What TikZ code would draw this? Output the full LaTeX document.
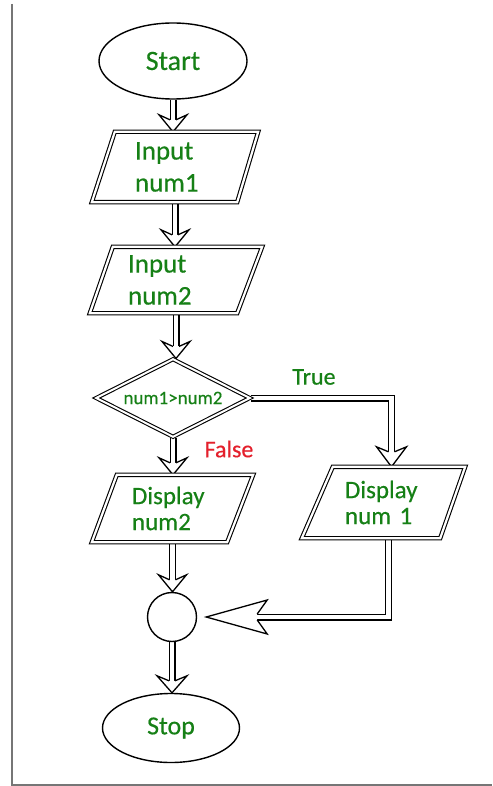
\documentclass[tikz,border=0pt]{standalone}
\usepackage{fontspec}
\setmainfont{Carlito}[FakeBold=0.4]
\usetikzlibrary{calc,shapes.geometric}

\pgfdeclarelayer{paper}
\pgfdeclarelayer{connectors}
\pgfdeclarelayer{outlines}
\pgfsetlayers{paper,connectors,outlines,main}

\definecolor{labelgreen}{RGB}{22,128,22}
\definecolor{falsered}{RGB}{228,32,44}
\definecolor{framegray}{RGB}{118,118,118}

\tikzset{
  terminal/.style={ellipse, draw, line width=1.4pt, fill=white, inner sep=0pt, text=labelgreen},
  iobox/.style={rectangle, inner sep=0pt, align=left, text=labelgreen},
  decision/.style={diamond, aspect=2, draw, line width=1.1pt, double=white,
    double distance=2pt, fill=white, inner sep=0pt, text=labelgreen},
  joint/.style={circle, draw, line width=1.4pt, fill=white, minimum size=49pt, inner sep=0pt},
  ioline/.style={draw, line width=1.1pt, double=white, double distance=2.2pt, fill=white, line join=miter},
  shaft/.style={draw, line width=1.2pt, double=white, double distance=4.6pt, line join=miter},
  headline/.style={draw, line width=1.3pt, line join=miter, fill=white},
}

% parallelogram around a text node: node, top-left inset, bottom-right inset
\newcommand\ioshape[3]{%
  \begin{pgfonlayer}{outlines}
    \draw[ioline] ($(#1.north west)+(#2,0)$) -- (#1.north east)
      -- ($(#1.south east)+(-#3,0)$) -- (#1.south west) -- cycle;
  \end{pgfonlayer}}

% open arrow head: tip, direction, length, neck depth, half width
\newcommand\hollowhead[5]{%
  \draw[headline] ($(#1)+(#2:-#4)+(#2+90:3pt)$) -- ($(#1)+(#2:-#3)+(#2+90:#5)$)
    -- (#1) -- ($(#1)+(#2:-#3)+(#2-90:#5)$) -- ($(#1)+(#2:-#4)+(#2-90:3pt)$);}

\begin{document}
\begin{tikzpicture}[x=1pt,y=1pt]
  \useasboundingbox (0,0) rectangle (492,-786);
  \begin{pgfonlayer}{paper}
    \fill[white] (0,0) rectangle (492,-786);
    \draw[framegray, line width=1.5pt] (12,-4) -- (12,-785) -- (492,-785);
  \end{pgfonlayer}

  % flowchart nodes
  \node[terminal, minimum width=148pt, minimum height=76pt,
        font=\fontsize{28}{32}\selectfont] (start) at (173,-61) {Start};
  \node[iobox, minimum width=166pt, minimum height=70pt, text width=80pt,
        font=\fontsize{27}{32}\selectfont] (in1) at (175,-167) {Input\\num1};
  \node[iobox, minimum width=172pt, minimum height=66pt, text width=96pt,
        font=\fontsize{27}{32}\selectfont] (in2) at (176,-280) {Input\\num2};
  \node[decision, minimum width=154pt, minimum height=78pt,
        font=\fontsize{19}{22}\selectfont] (dec) at (173,-398) {num1>num2};
  \node[iobox, minimum width=161pt, minimum height=67pt, text width=81pt,
        font=\fontsize{25}{26}\selectfont] (out2) at (172.5,-508.5) {Display\\num2};
  \node[iobox, minimum width=163pt, minimum height=71pt, text width=77pt,
        font=\fontsize{25}{26}\selectfont] (out1) at (383.5,-502.5) {Display\\num 1};
  \node[joint] (join) at (172,-617) {};
  \node[terminal, minimum width=137pt, minimum height=69pt,
        font=\fontsize{26}{30}\selectfont] (stop) at (171,-728) {Stop};

  \ioshape{in1}{23pt}{21pt}
  \ioshape{in2}{23pt}{25pt}
  \ioshape{out2}{25pt}{26pt}
  \ioshape{out1}{31pt}{25pt}

  % branch labels
  \node[text=labelgreen, font=\fontsize{24}{28}\selectfont] (truelbl) at (314,-377) {True};
  \node[text=falsered, font=\fontsize{24}{28}\selectfont] (falselbl) at (229,-449) {False};

  % connectors
  \begin{pgfonlayer}{connectors}
    \coordinate (a1) at (start.south |- in1.north);
    \draw[shaft, shorten >=12pt] (start.south) -- (a1);
    \hollowhead{a1}{-90}{17pt}{12pt}{14pt}

    \coordinate (a2) at (in1.south |- in2.north);
    \draw[shaft, shorten >=12pt] (in1.south) -- (a2);
    \hollowhead{a2}{-90}{17pt}{12pt}{14pt}

    \coordinate (a3) at (in2.south |- dec.north);
    \draw[shaft, shorten >=12pt] (in2.south) -- (a3);
    \hollowhead{a3}{-90}{17pt}{12pt}{14pt}

    \coordinate (a4) at (dec.south |- out2.north);
    \draw[shaft, shorten >=12pt] (dec.south) -- (a4);
    \hollowhead{a4}{-90}{17pt}{12pt}{14pt}

    \coordinate (a5) at (out2.south |- join.north);
    \draw[shaft, shorten >=12pt] (out2.south) -- (a5);
    \hollowhead{a5}{-90}{17pt}{12pt}{14pt}

    \coordinate (a6) at (join.south |- stop.north);
    \draw[shaft, shorten >=12pt] (join.south) -- (a6);
    \hollowhead{a6}{-90}{17pt}{12pt}{15pt}

    % true branch
    \coordinate (tt) at ($(out1.north)+(8pt,0)$);
    \draw[shaft] (dec.east) -| ($(tt)+(0,15pt)$);
    \hollowhead{tt}{-90}{20pt}{15pt}{15pt}

    % return into the joint
    \coordinate (rs) at ($(out1.south)+(5pt,0)$);
    \coordinate (rt) at ($(join.east)+(9pt,0)$);
    \draw[shaft] (rs) |- ($(rt)+(51pt,0)$);
    \hollowhead{rt}{180}{61pt}{51pt}{17pt}
  \end{pgfonlayer}
\end{tikzpicture}
\end{document}
